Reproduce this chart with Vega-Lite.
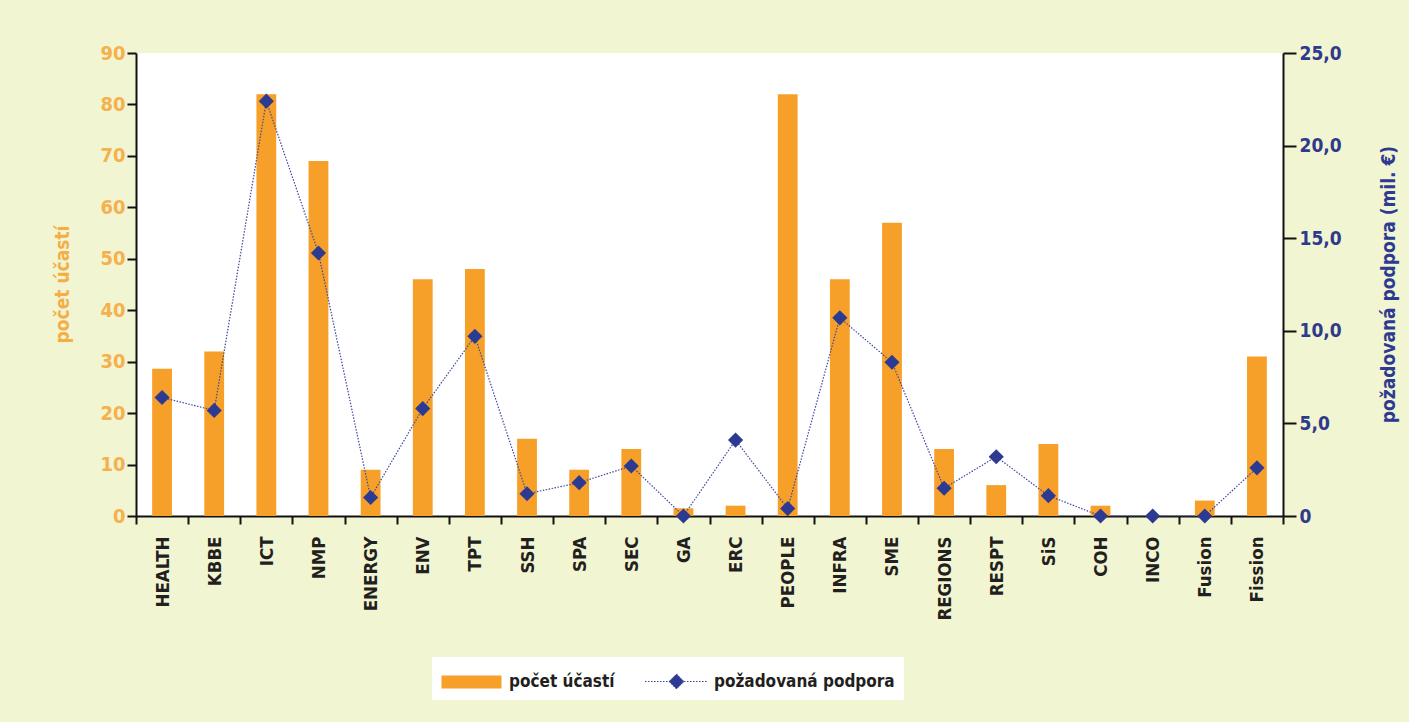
{
  "$schema": "https://vega.github.io/schema/vega-lite/v6.json",
  "width": 1147,
  "height": 463,
  "autosize": {"type": "none"},
  "padding": {"left": 136, "top": 53, "right": 126, "bottom": 206},
  "background": "#F2F5D1",
  "config": {
    "view": {"fill": "#ffffff", "stroke": null},
    "font": "Liberation Sans Narrow, DejaVu Sans Condensed, Roboto Condensed, Roboto, sans-serif",
    "axis": {
      "grid": false,
      "domainColor": "#111111",
      "domainWidth": 2,
      "tickColor": "#111111",
      "tickWidth": 2,
      "labelFontWeight": "bold",
      "titleFontWeight": "bold"
    }
  },
  "data": {
    "values": [
      {"program": "HEALTH", "ucasti": 28.6, "podpora": 6.4},
      {"program": "KBBE", "ucasti": 32, "podpora": 5.7},
      {"program": "ICT", "ucasti": 82, "podpora": 22.4},
      {"program": "NMP", "ucasti": 69, "podpora": 14.2},
      {"program": "ENERGY", "ucasti": 9, "podpora": 1.0},
      {"program": "ENV", "ucasti": 46, "podpora": 5.8},
      {"program": "TPT", "ucasti": 48, "podpora": 9.7},
      {"program": "SSH", "ucasti": 15, "podpora": 1.2},
      {"program": "SPA", "ucasti": 9, "podpora": 1.8},
      {"program": "SEC", "ucasti": 13, "podpora": 2.7},
      {"program": "GA", "ucasti": 1.5, "podpora": 0},
      {"program": "ERC", "ucasti": 2, "podpora": 4.1},
      {"program": "PEOPLE", "ucasti": 82, "podpora": 0.4},
      {"program": "INFRA", "ucasti": 46, "podpora": 10.7},
      {"program": "SME", "ucasti": 57, "podpora": 8.3},
      {"program": "REGIONS", "ucasti": 13, "podpora": 1.5},
      {"program": "RESPT", "ucasti": 6, "podpora": 3.2},
      {"program": "SiS", "ucasti": 14, "podpora": 1.1},
      {"program": "COH", "ucasti": 2, "podpora": 0},
      {"program": "INCO", "ucasti": 0, "podpora": 0},
      {"program": "Fusion", "ucasti": 3, "podpora": 0},
      {"program": "Fission", "ucasti": 31, "podpora": 2.6}
    ]
  },
  "encoding": {
    "x": {
      "field": "program",
      "type": "nominal",
      "sort": null,
      "scale": {"paddingInner": 0, "paddingOuter": 0},
      "axis": {
        "title": null,
        "labelAngle": 270,
        "labelFontSize": 18.5,
        "labelColor": "#231F20",
        "tickBand": "extent",
        "tickSize": 8,
        "labelPadding": 12
      }
    }
  },
  "layer": [
    {
      "mark": {"type": "bar", "width": {"band": 0.38}},
      "encoding": {
        "y": {
          "field": "ucasti",
          "type": "quantitative",
          "scale": {"domain": [0, 90], "nice": false},
          "axis": {
            "orient": "left",
            "values": [0, 10, 20, 30, 40, 50, 60, 70, 80, 90],
            "title": "počet účastí",
            "titleColor": "#F4AE45",
            "titleFontSize": 19,
            "titleBaseline": "middle",
            "titleX": -74,
            "titleY": 231,
            "labelColor": "#F4B14E",
            "labelFontSize": 20,
            "tickSize": 9,
            "labelPadding": 2
          }
        },
        "color": {
          "datum": "počet účastí",
          "type": "nominal",
          "scale": {
            "domain": ["počet účastí", "požadovaná podpora"],
            "range": ["#F7A029", "#2C3A92"]
          },
          "legend": {
            "orient": "none",
            "legendX": 296,
            "legendY": 604,
            "direction": "horizontal",
            "fillColor": "#ffffff",
            "padding": 9,
            "title": null,
            "symbolSize": 900,
            "symbolOffset": 15,
            "labelOffset": 22,
            "columnPadding": 28,
            "labelFontSize": 17,
            "labelFontWeight": "bold",
            "labelColor": "#231F20",
            "labelLimit": 300,
            "encode": {
              "symbols": {
                "update": {
                  "shape": {"signal": "datum.value == 'počet účastí' ? 'M-2,-0.43H2V0.43H-2Z' : 'M-2.1,0H2.1M0,-0.5L0.5,0L0,0.5L-0.5,0Z'"},
                  "fill": {"signal": "datum.value == 'počet účastí' ? '#F7A029' : '#2C3A92'"},
                  "stroke": {"signal": "datum.value == 'počet účastí' ? 'transparent' : '#3B46A0'"},
                  "strokeWidth": {"value": 1},
                  "strokeDash": {"value": [1.5, 1.5]},
                  "opacity": {"value": 1}
                }
              }
            }
          }
        }
      }
    },
    {
      "encoding": {
        "y": {
          "field": "podpora",
          "type": "quantitative",
          "scale": {"domain": [0, 25], "nice": false},
          "axis": {
            "orient": "right",
            "values": [0, 5, 10, 15, 20, 25],
            "labelExpr": "datum.value == 0 ? '0' : replace(format(datum.value, '.1f'), '.', ',')",
            "title": "požadovaná podpora (mil. €)",
            "titleColor": "#2C3A92",
            "titleFontSize": 19,
            "titleAngle": 270,
            "titleBaseline": "middle",
            "titleX": 105,
            "titleY": 231,
            "labelColor": "#2E3A8C",
            "labelFontSize": 19,
            "tickSize": 13,
            "labelPadding": 3
          }
        }
      },
      "layer": [
        {
          "mark": {"type": "line", "color": "#3B46A0", "strokeWidth": 1.2, "strokeDash": [1.5, 1.5]}
        },
        {
          "mark": {"type": "point", "shape": "diamond", "filled": true, "size": 230, "color": "#2C3A92", "opacity": 1}
        }
      ]
    }
  ],
  "resolve": {"scale": {"y": "independent"}, "axis": {"y": "independent"}}
}
